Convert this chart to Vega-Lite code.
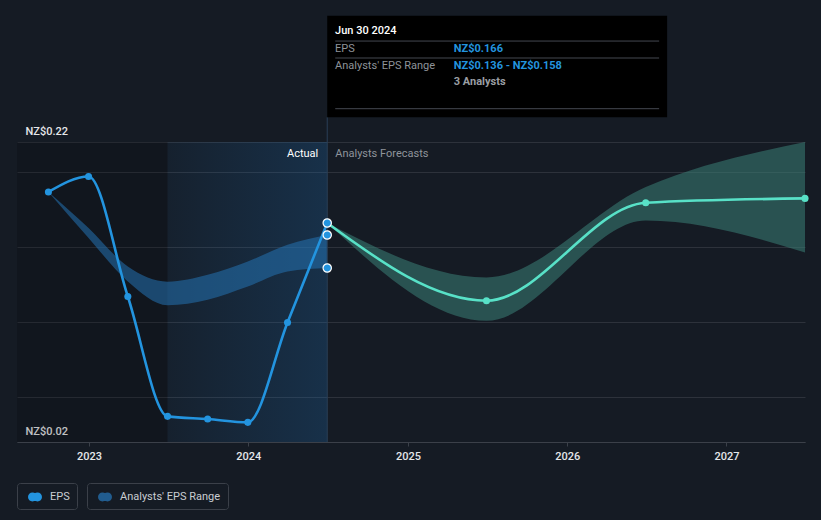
{
  "$schema": "https://vega.github.io/schema/vega-lite/v6.json",
  "width": 788,
  "height": 300,
  "autosize": {"type": "none"},
  "padding": {"left": 17, "top": 142, "right": 16, "bottom": 78},
  "background": "#151b24",
  "config": {
    "font": "Roboto",
    "view": {"stroke": null}
  },
  "datasets": {
    "eps": [
      {"date": "2022-09-30", "eps": 0.1867, "series": "EPS"},
      {"date": "2022-12-31", "eps": 0.1970, "series": "EPS"},
      {"date": "2023-03-31", "eps": 0.1170, "series": "EPS"},
      {"date": "2023-06-30", "eps": 0.0371, "series": "EPS"},
      {"date": "2023-09-30", "eps": 0.0353, "series": "EPS"},
      {"date": "2023-12-31", "eps": 0.0331, "series": "EPS"},
      {"date": "2024-03-31", "eps": 0.0997, "series": "EPS"},
      {"date": "2024-06-30", "eps": 0.166, "series": "EPS"},
      {"date": "2024-06-30", "eps": 0.166, "series": "EPS forecast"},
      {"date": "2025-06-30", "eps": 0.1142, "series": "EPS forecast"},
      {"date": "2026-06-30", "eps": 0.1795, "series": "EPS forecast"},
      {"date": "2027-06-30", "eps": 0.1824, "series": "EPS forecast"}
    ],
    "range": [
      {"date": "2022-09-30", "lo": 0.1867, "hi": 0.1867, "series": "Analysts' EPS Range"},
      {"date": "2022-12-31", "lo": 0.156, "hi": 0.1627, "series": "Analysts' EPS Range"},
      {"date": "2023-03-31", "lo": 0.127, "hi": 0.137, "series": "Analysts' EPS Range"},
      {"date": "2023-06-30", "lo": 0.1112, "hi": 0.1269, "series": "Analysts' EPS Range"},
      {"date": "2023-09-30", "lo": 0.1149, "hi": 0.1315, "series": "Analysts' EPS Range"},
      {"date": "2023-12-31", "lo": 0.1237, "hi": 0.1404, "series": "Analysts' EPS Range"},
      {"date": "2024-03-31", "lo": 0.1337, "hi": 0.1515, "series": "Analysts' EPS Range"},
      {"date": "2024-06-30", "lo": 0.136, "hi": 0.158, "series": "Analysts' EPS Range"},
      {"date": "2024-06-30", "lo": 0.166, "hi": 0.166, "series": "Forecast range"},
      {"date": "2025-06-30", "lo": 0.1008, "hi": 0.1297, "series": "Forecast range"},
      {"date": "2026-06-30", "lo": 0.1677, "hi": 0.19, "series": "Forecast range"},
      {"date": "2027-06-30", "lo": 0.1464, "hi": 0.22, "series": "Forecast range"}
    ],
    "highlight": [
      {"date": "2024-06-30", "value": 0.166},
      {"date": "2024-06-30", "value": 0.158},
      {"date": "2024-06-30", "value": 0.136}
    ]
  },
  "layer": [
    {
      "data": {"values": [{}]},
      "mark": {"type": "rect", "color": "#000000", "opacity": 0.16},
      "encoding": {
        "x": {"datum": {"year": 2022, "month": 7, "date": 20, "utc": true}, "type": "temporal"},
        "x2": {"datum": {"year": 2023, "month": 6, "date": 30, "utc": true}},
        "y": {"datum": 0.22, "type": "quantitative"},
        "y2": {"datum": 0.02}
      }
    },
    {
      "data": {"values": [{}]},
      "mark": {
        "type": "rect",
        "fill": {
          "gradient": "linear", "x1": 0, "y1": 0, "x2": 1, "y2": 0,
          "stops": [
            {"offset": 0, "color": "rgba(30,110,180,0.07)"},
            {"offset": 1, "color": "rgba(30,110,180,0.26)"}
          ]
        }
      },
      "encoding": {
        "x": {"datum": {"year": 2023, "month": 6, "date": 30, "utc": true}, "type": "temporal"},
        "x2": {"datum": {"year": 2024, "month": 6, "date": 30, "utc": true}},
        "y": {"datum": 0.22, "type": "quantitative"},
        "y2": {"datum": 0.02}
      }
    },
    {
      "data": {"name": "range"},
      "mark": {"type": "area", "interpolate": "monotone", "fillOpacity": 0.55},
      "encoding": {
        "x": {
          "field": "date", "type": "temporal", "title": null,
          "scale": {"type": "utc", "nice": false, "domain": [
            {"year": 2022, "month": 7, "date": 20, "utc": true},
            {"year": 2027, "month": 6, "date": 30, "utc": true}
          ]},
          "axis": {
            "values": [
              {"year": 2023, "month": 1, "date": 1, "utc": true},
              {"year": 2024, "month": 1, "date": 1, "utc": true},
              {"year": 2025, "month": 1, "date": 1, "utc": true},
              {"year": 2026, "month": 1, "date": 1, "utc": true},
              {"year": 2027, "month": 1, "date": 1, "utc": true}
            ],
            "format": "%Y",
            "grid": false,
            "domainColor": "#3b4049",
            "tickColor": "#3b4049",
            "tickSize": 4,
            "labelColor": "#e4e6e9",
            "labelFontSize": 11,
            "labelFontWeight": 500,
            "labelPadding": 4,
            "labelFlush": false,
            "labelOverlap": false,
            "title": null
          }
        },
        "y": {
          "field": "hi", "type": "quantitative", "title": null,
          "scale": {"domain": [0.02, 0.22], "zero": false, "nice": false},
          "axis": {
            "values": [0.02, 0.05, 0.1, 0.15, 0.2, 0.22],
            "grid": true,
            "gridColor": "#2d323b",
            "gridWidth": 1,
            "domain": false,
            "ticks": false,
            "tickSize": 0,
            "labelExpr": "datum.value == 0.22 || datum.value == 0.02 ? 'NZ$' + format(datum.value, '.2f') : ''",
            "labelAlign": "left",
            "labelBaseline": "alphabetic",
            "labelPadding": -8,
            "labelOffset": -8,
            "labelColor": "#e4e6e9",
            "labelFontSize": 11,
            "labelFontWeight": 500,
            "labelFlush": false,
            "labelOverlap": false,
            "labelBound": false,
            "title": null
          }
        },
        "y2": {"field": "lo"},
        "fill": {
          "field": "series", "type": "nominal",
          "scale": {"domain": ["Analysts' EPS Range", "Forecast range"], "range": ["#2573b3", "#3a7f76"]},
          "legend": {
            "values": ["Analysts' EPS Range"],
            "orient": "none", "legendX": 70, "legendY": 341,
            "title": null,
            "padding": 7,
            "strokeColor": "#3b4049",
            "cornerRadius": 3,
            "labelColor": "#c9cdd2",
            "labelFontSize": 11,
            "labelOffset": 8,
            "symbolOffset": 4,
            "symbolType": "M -1 0 A 0.64 0.64 0 1 0 0.28 0 A 0.64 0.64 0 1 0 -1 0 Z M -0.28 0 A 0.64 0.64 0 1 0 1 0 A 0.64 0.64 0 1 0 -0.28 0 Z",
            "symbolSize": 196,
            "symbolOpacity": 0.75,
            "symbolStrokeWidth": 0,
            "labelExpr": "datum.label + '  '"
          }
        }
      }
    },
    {
      "data": {"values": [{}]},
      "mark": {"type": "rule", "color": "#2a3f56", "strokeWidth": 1},
      "encoding": {
        "x": {"datum": {"year": 2024, "month": 6, "date": 30, "utc": true}, "type": "temporal"},
        "y": {"datum": 0.2365, "type": "quantitative"},
        "y2": {"datum": 0.02}
      }
    },
    {
      "data": {"name": "eps"},
      "mark": {"type": "line", "interpolate": "monotone", "strokeWidth": 2.6},
      "encoding": {
        "x": {"field": "date", "type": "temporal", "title": null},
        "y": {"field": "eps", "type": "quantitative", "title": null},
        "stroke": {
          "field": "series", "type": "nominal",
          "scale": {"domain": ["EPS", "EPS forecast"], "range": ["#2394df", "#58e1c7"]},
          "legend": {
            "values": ["EPS"],
            "orient": "none", "legendX": 0, "legendY": 341,
            "title": null,
            "padding": 7,
            "strokeColor": "#3b4049",
            "cornerRadius": 3,
            "labelColor": "#c9cdd2",
            "labelFontSize": 11,
            "labelOffset": 8,
            "symbolOffset": 4,
            "symbolType": "M -1 0 A 0.64 0.64 0 1 0 0.28 0 A 0.64 0.64 0 1 0 -1 0 Z M -0.28 0 A 0.64 0.64 0 1 0 1 0 A 0.64 0.64 0 1 0 -0.28 0 Z",
            "symbolSize": 196,
            "symbolOpacity": 1,
            "symbolStrokeWidth": 0,
            "symbolFillColor": "#2394df",
            "labelExpr": "datum.label + '  '"
          }
        }
      }
    },
    {
      "data": {"name": "eps"},
      "transform": [{"filter": "datum.series == 'EPS'"}],
      "mark": {"type": "point", "filled": true, "color": "#2394df", "size": 50, "opacity": 1},
      "encoding": {
        "x": {"field": "date", "type": "temporal", "title": null},
        "y": {"field": "eps", "type": "quantitative", "title": null}
      }
    },
    {
      "data": {"name": "eps"},
      "transform": [{"filter": "datum.series == 'EPS forecast'"}],
      "mark": {"type": "point", "filled": true, "color": "#58e1c7", "size": 50, "opacity": 1},
      "encoding": {
        "x": {"field": "date", "type": "temporal", "title": null},
        "y": {"field": "eps", "type": "quantitative", "title": null}
      }
    },
    {
      "data": {"name": "highlight"},
      "mark": {"type": "point", "filled": true, "fill": "#2394df", "stroke": "#ffffff", "strokeWidth": 1.2, "size": 70, "opacity": 1},
      "encoding": {
        "x": {"field": "date", "type": "temporal", "title": null},
        "y": {"field": "value", "type": "quantitative", "title": null}
      }
    },
    {
      "data": {"values": [{}]},
      "mark": {"type": "text", "align": "right", "baseline": "middle", "dx": -9, "fontSize": 11, "color": "#ffffff"},
      "encoding": {
        "x": {"datum": {"year": 2024, "month": 6, "date": 30, "utc": true}, "type": "temporal"},
        "y": {"datum": 0.212, "type": "quantitative"},
        "text": {"value": "Actual"}
      }
    },
    {
      "data": {"values": [{}]},
      "mark": {"type": "text", "align": "left", "baseline": "middle", "dx": 8, "fontSize": 11, "color": "#8f949b"},
      "encoding": {
        "x": {"datum": {"year": 2024, "month": 6, "date": 30, "utc": true}, "type": "temporal"},
        "y": {"datum": 0.212, "type": "quantitative"},
        "text": {"value": "Analysts Forecasts"}
      }
    },
    {
      "data": {"values": [{}]},
      "mark": {"type": "rect", "color": "#000000"},
      "encoding": {
        "x": {"datum": {"year": 2024, "month": 6, "date": 30, "utc": true}, "type": "temporal"},
        "x2": {"datum": {"year": 2026, "month": 8, "date": 18, "utc": true}},
        "y": {"datum": 0.3042, "type": "quantitative"},
        "y2": {"datum": 0.2365}
      }
    },
    {
      "data": {"values": [{"sep": 0.2873}, {"sep": 0.2760}, {"sep": 0.2422}]},
      "mark": {"type": "rule", "color": "#444850", "strokeWidth": 1, "xOffset": 8, "x2Offset": -8},
      "encoding": {
        "x": {"datum": {"year": 2024, "month": 6, "date": 30, "utc": true}, "type": "temporal"},
        "x2": {"datum": {"year": 2026, "month": 8, "date": 18, "utc": true}},
        "y": {"field": "sep", "type": "quantitative", "title": null}
      }
    },
    {
      "data": {"values": [{}]},
      "mark": {"type": "text", "align": "left", "baseline": "middle", "fontSize": 11, "fontWeight": 500, "color": "#ffffff"},
      "encoding": {
        "x": {"datum": {"year": 2024, "month": 7, "date": 18, "utc": true}, "type": "temporal"},
        "y": {"datum": 0.2937, "type": "quantitative"},
        "text": {"value": "Jun 30 2024"}
      }
    },
    {
      "data": {"values": [{}]},
      "mark": {"type": "text", "align": "left", "baseline": "middle", "fontSize": 11, "color": "#8e9399"},
      "encoding": {
        "x": {"datum": {"year": 2024, "month": 7, "date": 18, "utc": true}, "type": "temporal"},
        "y": {"datum": 0.2820, "type": "quantitative"},
        "text": {"value": "EPS"}
      }
    },
    {
      "data": {"values": [{}]},
      "mark": {"type": "text", "align": "left", "baseline": "middle", "fontSize": 11, "color": "#8e9399"},
      "encoding": {
        "x": {"datum": {"year": 2024, "month": 7, "date": 18, "utc": true}, "type": "temporal"},
        "y": {"datum": 0.2709, "type": "quantitative"},
        "text": {"value": "Analysts' EPS Range"}
      }
    },
    {
      "data": {"values": [{}]},
      "mark": {"type": "text", "align": "left", "baseline": "middle", "fontSize": 11, "fontWeight": "bold", "color": "#2394df"},
      "encoding": {
        "x": {"datum": {"year": 2025, "month": 4, "date": 16, "utc": true}, "type": "temporal"},
        "y": {"datum": 0.2820, "type": "quantitative"},
        "text": {"value": "NZ$0.166"}
      }
    },
    {
      "data": {"values": [{}]},
      "mark": {"type": "text", "align": "left", "baseline": "middle", "fontSize": 11, "fontWeight": "bold", "color": "#2394df"},
      "encoding": {
        "x": {"datum": {"year": 2025, "month": 4, "date": 16, "utc": true}, "type": "temporal"},
        "y": {"datum": 0.2709, "type": "quantitative"},
        "text": {"value": "NZ$0.136 - NZ$0.158"}
      }
    },
    {
      "data": {"values": [{}]},
      "mark": {"type": "text", "align": "left", "baseline": "middle", "fontSize": 11, "fontWeight": "bold", "color": "#9a9ea4"},
      "encoding": {
        "x": {"datum": {"year": 2025, "month": 4, "date": 16, "utc": true}, "type": "temporal"},
        "y": {"datum": 0.2597, "type": "quantitative"},
        "text": {"value": "3 Analysts"}
      }
    }
  ]
}
